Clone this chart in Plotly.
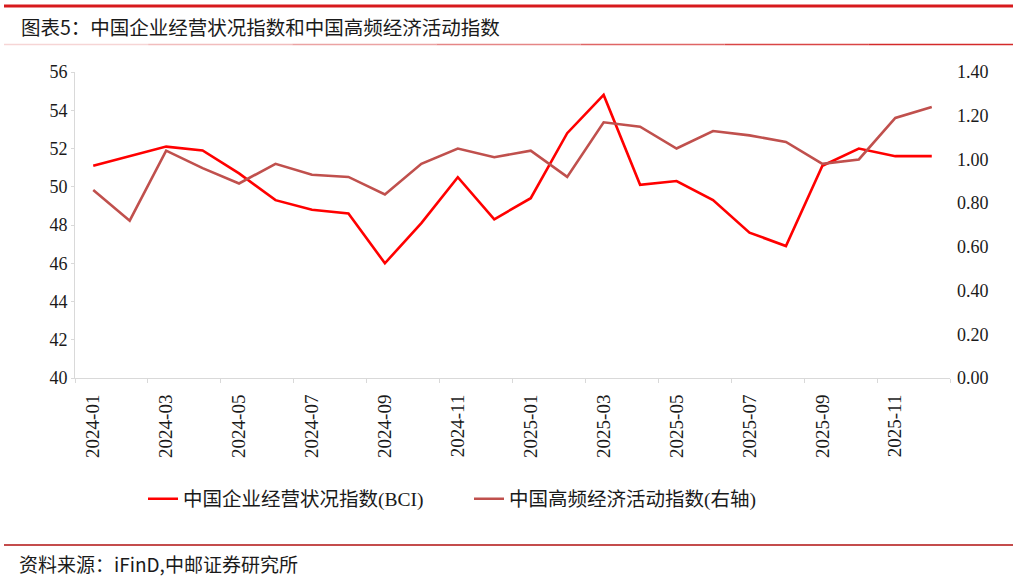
import plotly.graph_objects as go

months = ["2024-01", "2024-02", "2024-03", "2024-04", "2024-05", "2024-06",
          "2024-07", "2024-08", "2024-09", "2024-10", "2024-11", "2024-12",
          "2025-01", "2025-02", "2025-03", "2025-04", "2025-05", "2025-06",
          "2025-07", "2025-08", "2025-09", "2025-10", "2025-11", "2025-12"]
bci = [51.1, 51.6, 52.1, 51.9, 50.7, 49.3, 48.8, 48.6, 46.0, 48.1, 50.5, 48.3,
       49.4, 52.8, 54.8, 50.1, 50.3, 49.3, 47.6, 46.9, 51.1, 52.0, 51.6, 51.6]
hf = [0.86, 0.72, 1.04, 0.96, 0.89, 0.98, 0.93, 0.92, 0.84, 0.98, 1.05, 1.01,
      1.04, 0.92, 1.17, 1.15, 1.05, 1.13, 1.11, 1.08, 0.98, 1.00, 1.19, 1.24]

name_bci = "中国企业经营状况指数(BCI)"
name_hf = "中国高频经济活动指数(右轴)"
title_text = "图表5：中国企业经营状况指数和中国高频经济活动指数"
source_text = "资料来源：iFinD,中邮证券研究所"

W, H = 1019, 580
L, R, T, B = 75, 950, 72, 378

FONT = "Liberation Serif, Noto Sans CJK SC, serif"
CJK = "Noto Sans CJK SC, Liberation Serif, sans-serif"


def px_x(px):
    return (px - L) / (R - L)


def px_y(py):
    return (B - py) / (B - T)


fig = go.Figure()
fig.add_trace(go.Scatter(x=months, y=bci, name=name_bci, mode="lines",
                         line=dict(color="#FF0000", width=2.6), yaxis="y"))
fig.add_trace(go.Scatter(x=months, y=hf, name=name_hf, mode="lines",
                         line=dict(color="#C0504D", width=2.6), yaxis="y2"))

shapes = []
# top thick red line
shapes.append(dict(type="line", xref="paper", yref="paper",
                   x0=px_x(4), x1=px_x(1013), y0=px_y(6), y1=px_y(6),
                   line=dict(color="#D7191C", width=3)))
# thin line under title (fades from pink to red)
seg_cols = ["#F6D5D5", "#F1BDBD", "#EBA3A3", "#E58686", "#DF6565", "#D94545", "#D42A2A"]
n = len(seg_cols)
for i, c in enumerate(seg_cols):
    a = 4 + (1013 - 4) * i / n
    b = 4 + (1013 - 4) * (i + 1) / n
    shapes.append(dict(type="line", xref="paper", yref="paper",
                       x0=px_x(a), x1=px_x(b), y0=px_y(44.5), y1=px_y(44.5),
                       line=dict(color=c, width=1.5)))
# footer line
shapes.append(dict(type="line", xref="paper", yref="paper",
                   x0=px_x(4), x1=px_x(1013), y0=px_y(545), y1=px_y(545),
                   line=dict(color="#B01010", width=1.5)))

annotations = [
    dict(text=title_text, xref="paper", yref="paper", x=px_x(19), y=px_y(26),
         xanchor="left", yanchor="middle", showarrow=False,
         font=dict(family=CJK, size=19.5, color="#1a1a1a")),
    dict(text=source_text, xref="paper", yref="paper", x=px_x(17), y=px_y(563),
         xanchor="left", yanchor="middle", showarrow=False,
         font=dict(family=CJK, size=19, color="#1a1a1a")),
]

fig.update_layout(
    width=W, height=H,
    margin=dict(l=L, r=W - R, t=T, b=H - B, pad=0),
    paper_bgcolor="white", plot_bgcolor="white",
    showlegend=True,
    legend=dict(orientation="h", x=px_x(143), y=px_y(499), xanchor="left", yanchor="middle",
                font=dict(family=FONT, size=19.5, color="#1a1a1a"),
                entrywidth=281, entrywidthmode="pixels", itemwidth=30,
                bgcolor="rgba(0,0,0,0)", tracegroupgap=0),
    xaxis=dict(type="category", range=[-0.5, 23.5], tickangle=-90,
               tickmode="linear", dtick=2, tickson="boundaries",
               ticks="outside", ticklen=4, tickcolor="#d9d9d9",
               showline=True, linecolor="#d9d9d9", linewidth=1,
               showgrid=False, zeroline=False, ticklabelstandoff=8,
               tickfont=dict(family=FONT, size=19, color="#1a1a1a")),
    yaxis=dict(range=[40, 56], dtick=2, tickmode="linear",
               ticks="outside", ticklen=3, tickcolor="#d9d9d9",
               showline=True, linecolor="#d9d9d9", linewidth=1,
               showgrid=False, zeroline=False,
               tickfont=dict(family=FONT, size=18, color="#1a1a1a")),
    yaxis2=dict(range=[0, 1.4], dtick=0.2, tickmode="linear", tickformat=".2f",
                overlaying="y", side="right", showline=False, ticks="",
                showgrid=False, zeroline=False, ticklabelstandoff=6,
                tickfont=dict(family=FONT, size=18, color="#1a1a1a")),
    shapes=shapes,
    annotations=annotations,
)

fig.write_html("out.html")
